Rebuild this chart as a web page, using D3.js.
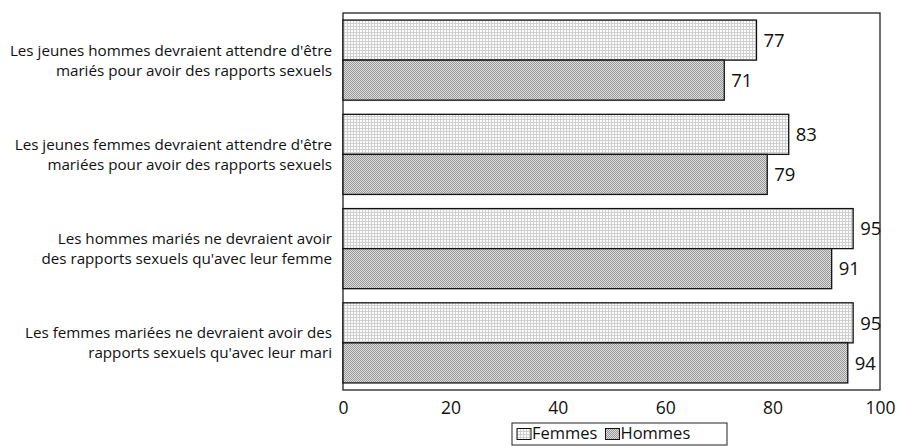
<!DOCTYPE html>
<html><head><meta charset="utf-8">
<script src="https://cdn.jsdelivr.net/npm/d3@7"></script>
<style>body{margin:0;background:#fff}text{font-family:"Open Sans",sans-serif;fill:#111}</style>
</head><body><svg id="c" width="897" height="446"></svg>
<script>
const categories = [
  ["Les jeunes hommes devraient attendre d'être","mariés pour avoir des rapports sexuels"],
  ["Les jeunes femmes devraient attendre d'être","mariées pour avoir des rapports sexuels"],
  ["Les hommes mariés ne devraient avoir","des rapports sexuels qu'avec leur femme"],
  ["Les femmes mariées ne devraient avoir des","rapports sexuels qu'avec leur mari"]
];
const seriesNames = ["Femmes","Hommes"];
const femmes = [77, 83, 95, 95];
const hommes = [71, 79, 91, 94];
const xTicks = [0,20,40,60,80,100];

const svg = d3.select("#c");
const defs = svg.append("defs");
const pf = defs.append("pattern").attr("id","pf").attr("patternUnits","userSpaceOnUse").attr("width",3).attr("height",3);
pf.append("rect").attr("width",3).attr("height",3).attr("fill","#cfcfcf");
pf.append("rect").attr("width",2).attr("height",2).attr("fill","#fbfbfb");
const ph = defs.append("pattern").attr("id","ph").attr("patternUnits","userSpaceOnUse").attr("width",2).attr("height",2);
ph.append("rect").attr("width",2).attr("height",2).attr("fill","#dcdcdc");
ph.append("rect").attr("width",1).attr("height",1).attr("fill","#999");
ph.append("rect").attr("x",1).attr("y",1).attr("width",1).attr("height",1).attr("fill","#999");
const fills = ["url(#pf)","url(#ph)"];

const L=343, R=880, T=13, B=390;
const x = d3.scaleLinear().domain([0,100]).range([L,R]);
const y = d3.scaleBand().domain(d3.range(categories.length)).range([T,B]).paddingInner(0.15).paddingOuter(0.075);
const ys = d3.scaleBand().domain([0,1]).range([0,y.bandwidth()]);

svg.append("rect").attr("x",L).attr("y",T).attr("width",R-L).attr("height",B-T).attr("fill","none").attr("stroke","#222").attr("stroke-width",1.3);

const data = [femmes, hommes];
categories.forEach((c,i)=>{
  const g = svg.append("g");
  data.forEach((arr,s)=>{
    const by = y(i)+ys(s);
    g.append("rect").attr("x",x(0)).attr("y",by).attr("width",x(arr[i])-x(0)).attr("height",ys.bandwidth())
      .attr("fill",fills[s]).attr("stroke","#111").attr("stroke-width",1.3);
    g.append("text").attr("x",x(arr[i])+7).attr("y",by+ys.bandwidth()/2).attr("dy","0.36em")
      .attr("font-size",18.5).text(arr[i]);
  });
  const cy = y(i)+y.bandwidth()/2;
  c.forEach((line,k)=>{
    g.append("text").attr("x",332).attr("y",cy+(k-0.5)*20).attr("dy","0.36em").attr("text-anchor","end")
      .attr("font-size",15.2).text(line);
  });
});

const ax = svg.append("g").attr("transform",`translate(0,${B})`)
  .call(d3.axisBottom(x).tickValues(xTicks).tickSize(0).tickPadding(12));
ax.select(".domain").remove();
ax.selectAll("text").attr("font-size",17.5).attr("font-family","'Open Sans',sans-serif").attr("fill","#111");

// legend
const lg = svg.append("g").attr("transform","translate(512,423)");
lg.append("rect").attr("width",215).attr("height",22).attr("fill","#fff").attr("stroke","#222").attr("stroke-width",1);
let lx = 5;
seriesNames.forEach((n,s)=>{
  lg.append("rect").attr("x",lx).attr("y",5.5).attr("width",14).attr("height",11).attr("fill",fills[s]).attr("stroke","#111");
  const t = lg.append("text").attr("x",lx+15).attr("y",10.5).attr("dy","0.36em").attr("font-size",16.5).text(n);
  lx += 15 + t.node().getComputedTextLength() + 8;
});
</script></body></html>
